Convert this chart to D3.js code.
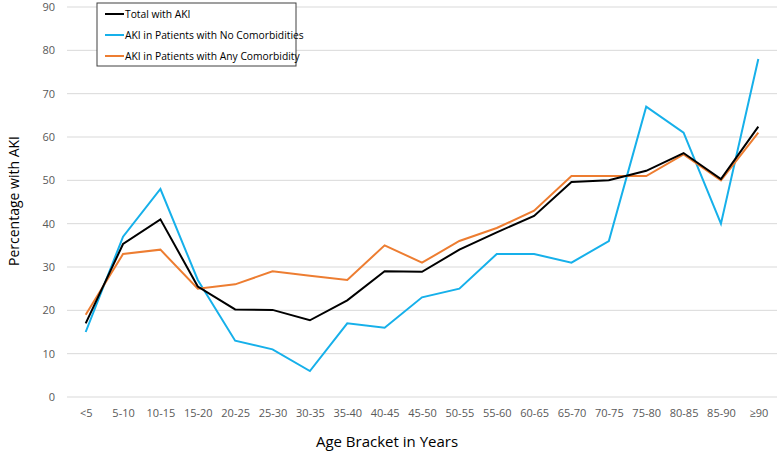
<!DOCTYPE html>
<html><head><meta charset="utf-8">
<script src="https://cdn.jsdelivr.net/npm/d3@7"></script>
<style>body{margin:0;background:#fff}svg{display:block}</style>
</head><body>
<script>
const categories = ["<5","5-10","10-15","15-20","20-25","25-30","30-35","35-40","40-45","45-50","50-55","55-60","60-65","65-70","70-75","75-80","80-85","85-90","≥90"];
const totalAKI = [17,35.3,41,25.5,20.2,20.1,17.7,22.3,29,28.9,34,38,41.8,49.6,50,52.2,56.3,50.3,62.4];
const noComorb = [15,37,48,27,13,11,6,17,16,23,25,33,33,31,36,67,61,40,78];
const anyComorb = [19,33,34,25,26,29,28,27,35,31,36,39,43,51,51,51,56,50,61];
const yTicks = [0,10,20,30,40,50,60,70,80,90];
const seriesNames = ["Total with AKI","AKI in Patients with No Comorbidities","AKI in Patients with Any Comorbidity"];
const seriesColors = ["#000000","#16b0ea","#ed7d31"];

const W=780,H=452;
const svg=d3.select("body").append("svg").attr("width",W).attr("height",H);
const font="'Open Sans', 'Liberation Sans', sans-serif";
const x=d3.scalePoint().domain(categories).range([67,777]).padding(0.5);
const y=d3.scaleLinear().domain([0,90]).range([397,7]);

// gridlines
svg.append("g").selectAll("line").data(yTicks).join("line")
  .attr("x1",67).attr("x2",777).attr("y1",d=>y(d)).attr("y2",d=>y(d))
  .attr("stroke","#d9d9d9").attr("stroke-width",1);

// y axis labels
const yAxis=svg.append("g").attr("transform","translate(67,0)")
  .call(d3.axisLeft(y).tickValues(yTicks).tickSize(0).tickPadding(12));
yAxis.select(".domain").remove();
yAxis.selectAll("text").attr("font-family",font).attr("font-size",11).attr("fill","#595959");

// x axis labels
const xAxis=svg.append("g").attr("transform","translate(0,397)")
  .call(d3.axisBottom(x).tickSize(0).tickPadding(12));
xAxis.select(".domain").remove();
xAxis.selectAll("text").attr("font-family",font).attr("font-size",11).attr("fill","#595959");

// titles
svg.append("text").attr("x",387).attr("y",447).attr("text-anchor","middle")
  .attr("font-family",font).attr("font-size",15).attr("fill","#000").text("Age Bracket in Years");
svg.append("text").attr("transform","translate(19,201) rotate(-90)").attr("text-anchor","middle")
  .attr("font-family",font).attr("font-size",14).attr("fill","#000").text("Percentage with AKI");

// lines
const line=d3.line().x((d,i)=>x(categories[i])).y(d=>y(d));
const data=[totalAKI,noComorb,anyComorb];
const drawOrder=[1,2,0];
drawOrder.forEach(k=>{
  svg.append("path").datum(data[k]).attr("d",line).attr("fill","none")
    .attr("stroke",seriesColors[k]).attr("stroke-width",2).attr("stroke-linejoin","miter");
});

// legend
const lg=svg.append("g");
lg.append("rect").attr("x",97).attr("y",3).attr("width",199).attr("height",63)
  .attr("fill","#fff").attr("stroke","#404040").attr("stroke-width",1);
seriesNames.forEach((n,i)=>{
  const yy=14+i*21;
  lg.append("line").attr("x1",105).attr("x2",124).attr("y1",yy).attr("y2",yy)
    .attr("stroke",seriesColors[i]).attr("stroke-width",2);
  lg.append("text").attr("x",125).attr("y",yy+3.5).attr("font-family",font).attr("font-size",10.3)
    .attr("fill","#000").text(n);
});
</script>
</body></html>
